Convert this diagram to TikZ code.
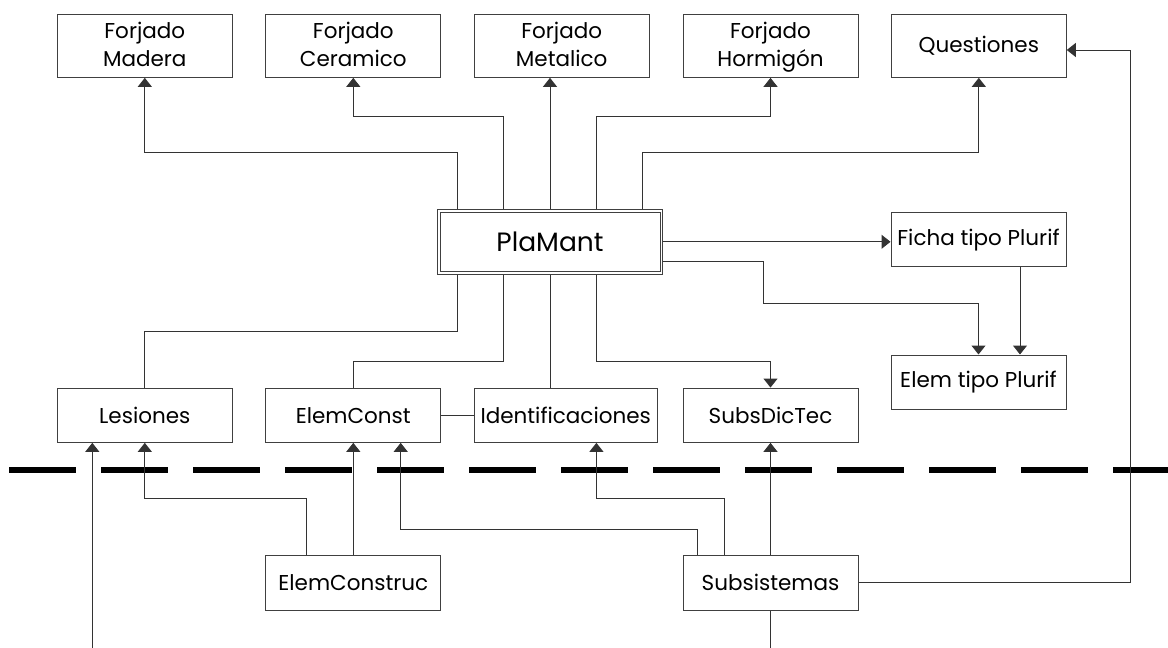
\documentclass[tikz,border=0pt]{standalone}
\usepackage{fontspec}
\setmainfont{Poppins}
\usetikzlibrary{arrows.meta}
\newcommand{\twoline}[2]{\begin{tabular}[b]{@{}c@{}}#1\\#2\end{tabular}}
\begin{document}
\begin{tikzpicture}[x=1pt,y=-1pt,
  line width=1pt,
  box/.style={draw=black!75, line width=1pt, inner sep=0pt,
    font=\fontsize{21.5}{28.4}\selectfont, text=black},
  top/.style={box, minimum width=175pt, minimum height=63.3pt},
  toptwo/.style={top, text height=42pt, text depth=0pt},
  low/.style={box, minimum width=175pt, minimum height=54.3pt},
  conn/.style={draw=black!80, line width=1pt},
  arr/.style={conn, -{Triangle[width=14pt,length=9pt]}}
]
\useasboundingbox (0,0) rectangle (1168,648);

% top row
\node[toptwo] (Madera)     at (144.8,45.7) {\twoline{Forjado}{Madera}};
\node[toptwo] (Ceramico)   at (353.3,45.7) {\twoline{Forjado}{Ceramico}};
\node[toptwo] (Metalico)   at (561.7,45.7) {\twoline{Forjado}{Metalico}};
\node[toptwo] (Hormigon)   at (770.5,45.7) {\twoline{Forjado}{Hormigón}};
\node[top, yshift=-1.5pt] (Questiones) at (978.8,44.2) {Questiones};

% central (double border)
\node[draw=black!75, line width=1pt,
      minimum width=225.4pt, minimum height=65pt, inner sep=0pt,
      font=\fontsize{26.5}{30}\selectfont, text=black] (PlaMant) at (550,241.8) {PlaMant};
\draw[black!75, line width=1pt] ([shift={(3.2pt,3.2pt)}]PlaMant.south west) rectangle ([shift={(-3.2pt,-3.2pt)}]PlaMant.north east);

% right
\node[low, minimum height=54pt] (Ficha)    at (978.5,239.7) {Ficha tipo Plurif};
\node[low, minimum height=54pt] (ElemTipo) at (978.5,382)   {Elem tipo Plurif};

% lower row
\node[low] (Lesiones)  at (144.8,415.2) {Lesiones};
\node[low] (ElemConst) at (353.3,415.2) {ElemConst};
\node[low, minimum width=182.7pt] (Ident) at (565.7,415.2) {Identificaciones};
\node[low] (SubsDicTec) at (770.5,415.2) {SubsDicTec};

% bottom row
\node[low, minimum height=55pt] (ElemConstruc) at (353.3,582.5) {ElemConstruc};
\node[low, minimum height=55pt] (Subsistemas)  at (770.5,582.5) {Subsistemas};

% free ends at the bottom edge
\coordinate (bl) at (92.3,648);
\coordinate (br) at (770.5,648);

% dashed separator
\draw[line width=6pt, dash pattern=on 67pt off 25pt] (9,469.7) -- (1168,469.7);

% PlaMant upwards
\draw[arr] ([xshift=-92.7pt]PlaMant.north) |- ([yshift=-74.7pt]Madera.south) -- (Madera.south);
\draw[arr] ([xshift=-46.3pt]PlaMant.north) |- ([yshift=-38.7pt]Ceramico.south) -- (Ceramico.south);
\draw[arr] (PlaMant.north) -- ([xshift=-11.7pt]Metalico.south);
\draw[arr] ([xshift=46.7pt]PlaMant.north) |- ([yshift=-38.7pt]Hormigon.south) -- (Hormigon.south);
\draw[arr] ([xshift=92.7pt]PlaMant.north) |- ([yshift=-74.7pt]Questiones.south) -- (Questiones.south);

% PlaMant downwards
\draw[conn] ([xshift=-92.7pt]PlaMant.south) |- ([yshift=56.3pt]Lesiones.north) -- (Lesiones.north);
\draw[conn] ([xshift=-46.3pt]PlaMant.south) |- ([yshift=25.7pt]ElemConst.north) -- (ElemConst.north);
\draw[conn] (PlaMant.south) -- ([xshift=-15.7pt]Ident.north);
\draw[arr] ([xshift=46.7pt]PlaMant.south) |- ([yshift=25.7pt]SubsDicTec.north) -- (SubsDicTec.north);

% PlaMant right
\draw[arr] (PlaMant.east) -- (Ficha.west |- PlaMant.east);
\draw[arr] ([yshift=-19.9pt]PlaMant.east) -- ++(100.6pt,0) |- ([yshift=51pt]ElemTipo.north) -- (ElemTipo.north);
\draw[arr] ([xshift=41.5pt]Ficha.south) -- ([xshift=41.5pt]ElemTipo.north);

% ElemConst - Identificaciones
\draw[conn] (ElemConst.east) -- (Ident.west);

% ElemConstruc
\draw[arr] ([xshift=-47.3pt]ElemConstruc.north) |- ([yshift=-56pt]Lesiones.south) -- (Lesiones.south);
\draw[arr] (ElemConstruc.north) -- (ElemConst.south);

% Subsistemas
\draw[arr] ([xshift=-73.5pt]Subsistemas.north) |- ([xshift=47.4pt,yshift=-87pt]ElemConst.south) -- ([xshift=47.4pt]ElemConst.south);
\draw[arr] ([xshift=-45.7pt]Subsistemas.north) |- ([xshift=30.7pt,yshift=-55.5pt]Ident.south) -- ([xshift=30.7pt]Ident.south);
\draw[arr] (Subsistemas.north) -- (SubsDicTec.south);
\draw[arr] (Subsistemas.east) -| ([xshift=64pt,yshift=-4.3pt]Questiones.east) -- ([yshift=-4.3pt]Questiones.east);
\draw[conn] (Subsistemas.south) -- (br);

% bottom-left incoming
\draw[arr] (bl) -- ([xshift=-52.5pt]Lesiones.south);
\end{tikzpicture}
\end{document}
